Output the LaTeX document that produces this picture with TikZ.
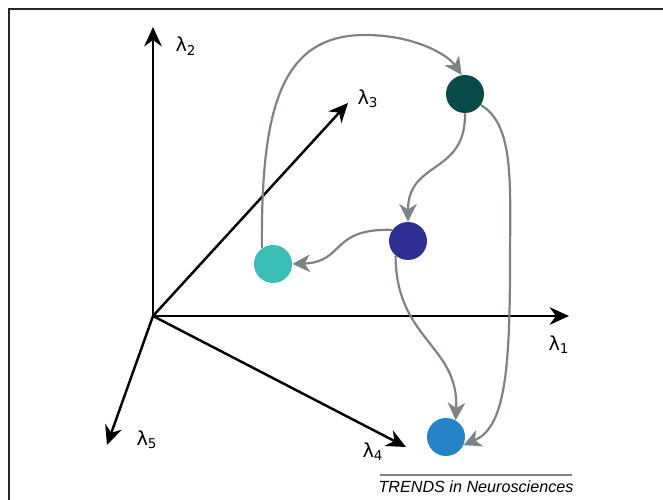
\documentclass[tikz,border=0pt]{standalone}
\usepackage{fontspec}
\setmainfont{Liberation Sans}
\newfontfamily\lamfont{DejaVu Sans}
\usetikzlibrary{arrows.meta}
\definecolor{dteal}{HTML}{074A48}
\definecolor{dnavy}{HTML}{2E3192}
\definecolor{lteal}{HTML}{3BBDB8}
\definecolor{mblue}{HTML}{2484C6}
\definecolor{flow}{HTML}{7D8282}
\newcommand{\lam}[1]{{\lamfont\fontsize{11}{13}\selectfont λ\textsubscript{#1}}}
\begin{document}
\begin{tikzpicture}[x=0.02cm, y=-0.02cm,
	axis/.style={line width=1.4pt, -{Stealth[length=11pt, width=10pt]}},
	flowarr/.style={flow, line width=1.25pt, -{Stealth[length=10pt, width=10pt, inset=3pt]}},
	state/.style={circle, minimum size=38*0.02cm, inner sep=0pt}]
	\useasboundingbox (0,0) rectangle (663,500);
	%\clip(0,0) rectangle (663,500);
	\draw[line width=0.8pt, black!85] (9,500) -- (9,9) -- (663,9);
	% axes
	\coordinate (O) at (153,316);
	\coordinate (e1) at (569,316);
	\coordinate (e2) at (153,27);
	\coordinate (e3) at (348,103);
	\coordinate (e4) at (406,447);
	\coordinate (e5) at (107,445);
	\draw[axis] (O) -- (e1);
	\draw[axis] (O) -- (e2);
	\draw[axis] (O) -- (e3);
	\draw[axis] (O) -- (e4);
	\draw[axis] (O) -- (e5);
	\node (l1) at (559,345) {\lam{1}};
	\node (l2) at (186,46) {\lam{2}};
	\node (l3) at (368,99) {\lam{3}};
	\node (l4) at (373,452) {\lam{4}};
	\node (l5) at (147,440) {\lam{5}};
	% states
	\node[state, fill=dteal] (s1) at (465,94) {};
	\node[state, fill=dnavy] (s2) at (408,241) {};
	\node[state, fill=lteal] (s3) at (273,264) {};
	\node[state, fill=mblue] (s4) at (446,437) {};
	\draw[flowarr] (s3.125) .. controls (261,110) and (280,35) .. (365,35) .. controls (415,35) and (448,55) .. (s1.100);
	\draw[flowarr] (s1.south) .. controls (466,175) and (408,160) .. (s2.north);
	\draw[flowarr] (s2.145) .. controls (330,228) and (345,262) .. (s3.east);
	\draw[flowarr] (s2.230) .. controls (396,340) and (459,345) .. (s4.60);
	\draw[flowarr] (s1.-35) .. controls (515,125) and (510,185) .. (510,265) .. controls (510,380) and (503,428) .. (s4.-25);
	% footer
	\draw[flow, line width=0.8pt] (380,475) -- (572,475);
	\node (src) at (476,487) {\fontsize{9.2}{11}\selectfont\itshape TRENDS in Neurosciences};
\end{tikzpicture}
\end{document}
